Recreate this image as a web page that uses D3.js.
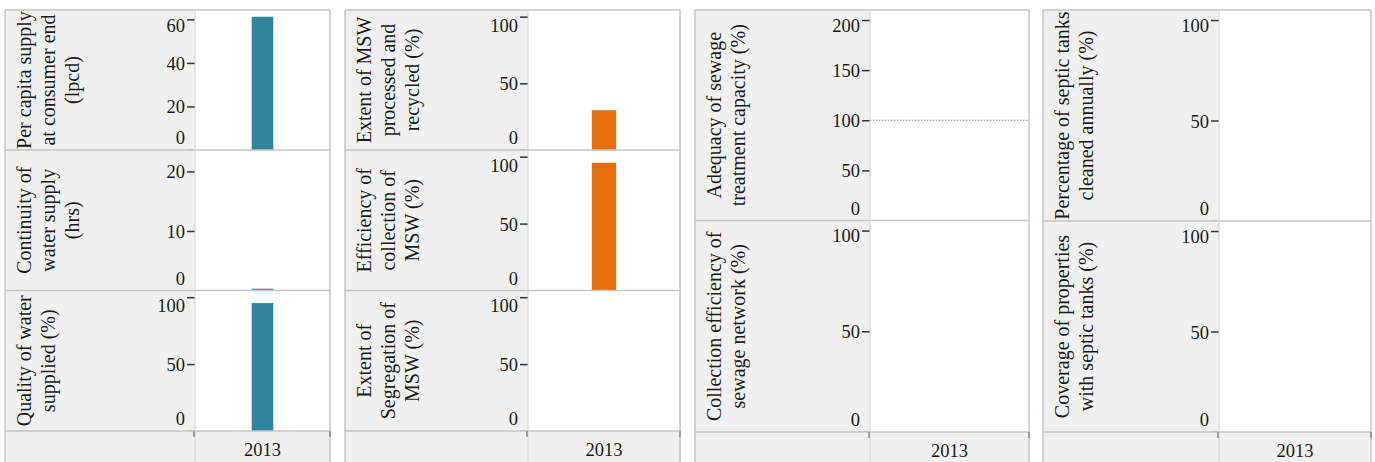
<!DOCTYPE html>
<html>
<head>
<meta charset="utf-8">
<script src="https://cdn.jsdelivr.net/npm/d3@7/dist/d3.min.js"></script>
<style>
  html, body { margin: 0; padding: 0; background: #ffffff; }
  svg { display: block; }
</style>
</head>
<body>
<svg id="chart" width="1375" height="462"></svg>
<script>
// ---------------- DATA ----------------
const years = ["2013"];

const waterLabels = [
  ["Per capita supply", "at consumer end", "(lpcd)"],
  ["Continuity of", "water supply", "(hrs)"],
  ["Quality of water", "supplied (%)"]
];
const waterValues = [61.2, 0.3, 95.6];
const waterMax = [64.3, 23.6, 105];
const waterTicks = [[0, 20, 40, 60], [0, 10, 20], [0, 50, 100]];
const waterBenchmarks = [null, null, null];

const mswLabels = [
  ["Extent of MSW", "processed and", "recycled (%)"],
  ["Efficiency of", "collection of", "MSW (%)"],
  ["Extent of", "Segregation of", "MSW (%)"]
];
const mswValues = [29.8, 95.5, null];
const mswMax = [105, 105, 105];
const mswTicks = [[0, 50, 100], [0, 50, 100], [0, 50, 100]];
const mswBenchmarks = [null, null, null];

const sewageLabels = [
  ["Adequacy of sewage", "treatment capacity (%)"],
  ["Collection efficiency of", "sewage network (%)"]
];
const sewageValues = [null, null];
const sewageMax = [210, 105];
const sewageTicks = [[0, 50, 100, 150, 200], [0, 50, 100]];
const sewageBenchmarks = [100, null];

const septicLabels = [
  ["Percentage of septic tanks", "cleaned annually (%)"],
  ["Coverage of properties", "with septic tanks (%)"]
];
const septicValues = [null, null];
const septicMax = [105, 105];
const septicTicks = [[0, 50, 100], [0, 50, 100]];
const septicBenchmarks = [null, null];

// ---------------- LAYOUT / STYLE ----------------
const teal = "#31849b";
const orange = "#e46c0a";

const groups = [
  { labels: waterLabels, values: waterValues, max: waterMax, ticks: waterTicks, bench: waterBenchmarks, color: teal,
    x0: 5, xp: 195, x1: 330, rows: [10, 150, 290.5, 431] },
  { labels: mswLabels, values: mswValues, max: mswMax, ticks: mswTicks, bench: mswBenchmarks, color: orange,
    x0: 345, xp: 528, x1: 680, rows: [10, 150, 290.5, 431] },
  { labels: sewageLabels, values: sewageValues, max: sewageMax, ticks: sewageTicks, bench: sewageBenchmarks, color: teal,
    x0: 695, xp: 870, x1: 1029, rows: [10, 220.5, 432] },
  { labels: septicLabels, values: septicValues, max: septicMax, ticks: septicTicks, bench: septicBenchmarks, color: teal,
    x0: 1043, xp: 1219, x1: 1371, rows: [10, 221, 432] }
];

const svg = d3.select("#chart");
const defs = svg.append("defs");
const fontFamily = "'Liberation Serif', 'DejaVu Serif', serif";
const textColor = "#1a1a1a";
const stripBg = "#f0f0f0";
const borderColor = "#c4c4c4";
const dividerColor = "#d4d4d4";

groups.forEach((g, gi) => {
  const G = svg.append("g");
  const nRows = g.labels.length;
  const bottom = g.rows[nRows];

  const x = d3.scaleBand().domain(years).range([g.xp, g.x1]).paddingInner(0.84).paddingOuter(0.42);

  for (let r = 0; r < nRows; r++) {
    const top = g.rows[r], bot = g.rows[r + 1];
    const y = d3.scaleLinear().domain([0, g.max[r]]).range([bot, top]);

    // strip background
    G.append("rect").attr("x", g.x0).attr("y", top).attr("width", g.xp - g.x0).attr("height", bot - top)
      .attr("fill", stripBg);
    // panel background
    G.append("rect").attr("x", g.xp).attr("y", top).attr("width", g.x1 - g.xp).attr("height", bot - top)
      .attr("fill", "#ffffff");

    // benchmark line
    if (g.bench[r] != null) {
      G.append("line").attr("x1", g.xp).attr("x2", g.x1 - 1)
        .attr("y1", y(g.bench[r])).attr("y2", y(g.bench[r]))
        .attr("stroke", "#8a8a8a").attr("stroke-width", 1).attr("stroke-dasharray", "1.5,1.5");
    }

    // bar
    if (g.values[r] != null) {
      G.append("rect")
        .attr("x", x(years[0])).attr("width", x.bandwidth())
        .attr("y", y(g.values[r])).attr("height", y(0) - y(g.values[r]))
        .attr("fill", g.color);
    }

    // title (rotated, clipped to the strip)
    const clipId = "clip-" + gi + "-" + r;
    defs.append("clipPath").attr("id", clipId).append("rect")
      .attr("x", g.x0).attr("y", top + 1).attr("width", g.xp - g.x0).attr("height", bot - top - 1);
    const tg = G.append("g").attr("clip-path", "url(#" + clipId + ")");
    const cy = (top + bot) / 2;
    g.labels[r].forEach((line, li) => {
      tg.append("text")
        .attr("transform", `translate(${g.x0 + 26 + li * 24},${cy}) rotate(-90)`)
        .attr("text-anchor", "middle")
        .attr("font-family", fontFamily).attr("font-size", 20)
        .attr("fill", textColor)
        .text(line);
    });

    // y axis ticks & labels
    const axis = d3.axisLeft(y).tickValues(g.ticks[r]).tickSize(8).tickPadding(3).tickFormat(d3.format("d"));
    const ax = G.append("g").attr("transform", `translate(${g.xp},0)`).call(axis);
    ax.select(".domain").remove();
    ax.selectAll(".tick line").attr("stroke", "#333").attr("stroke-width", 1.5);
    ax.selectAll(".tick text")
      .attr("font-family", fontFamily).attr("font-size", 18.5).attr("fill", textColor)
      .attr("x", -10)
      .attr("dy", "0.35em")
      .attr("y", d => {
        const ty = y(d);
        const c = Math.max(top + 15, Math.min(bot - 12.5, ty));
        return c - ty;
      });

    // row border lines
    G.append("line").attr("x1", g.x0).attr("x2", g.x1).attr("y1", top).attr("y2", top)
      .attr("stroke", borderColor).attr("stroke-width", 1.5);
  }

  // bottom x strip
  G.append("rect").attr("x", g.x0).attr("y", bottom).attr("width", g.x1 - g.x0).attr("height", 40)
    .attr("fill", stripBg);
  G.append("line").attr("x1", g.x0).attr("x2", g.x1).attr("y1", bottom).attr("y2", bottom)
    .attr("stroke", borderColor).attr("stroke-width", 1.5);

  // x axis labels
  const xAxis = d3.axisBottom(x).tickSize(0).tickPadding(0);
  const xa = G.append("g").attr("transform", `translate(0,${bottom})`).call(xAxis);
  xa.select(".domain").remove();
  xa.selectAll(".tick text")
    .attr("font-family", fontFamily).attr("font-size", 18.5).attr("fill", textColor)
    .attr("dy", 0).attr("y", 25);

  // vertical divider (strip / panel) and outer borders
  G.append("line").attr("x1", g.xp).attr("x2", g.xp).attr("y1", g.rows[0]).attr("y2", 470)
    .attr("stroke", dividerColor).attr("stroke-width", 1);
  G.append("line").attr("x1", g.x0).attr("x2", g.x0).attr("y1", g.rows[0]).attr("y2", 470)
    .attr("stroke", borderColor).attr("stroke-width", 1.5);
  G.append("line").attr("x1", g.x1).attr("x2", g.x1).attr("y1", g.rows[0]).attr("y2", 470)
    .attr("stroke", borderColor).attr("stroke-width", 1.5);
  // small band-edge ticks at top of x strip
  [g.xp - 1, g.x1].forEach(xx => {
    G.append("line").attr("x1", xx).attr("x2", xx).attr("y1", bottom).attr("y2", bottom + 6)
      .attr("stroke", "#888").attr("stroke-width", 1.5);
  });
});
</script>
</body>
</html>
